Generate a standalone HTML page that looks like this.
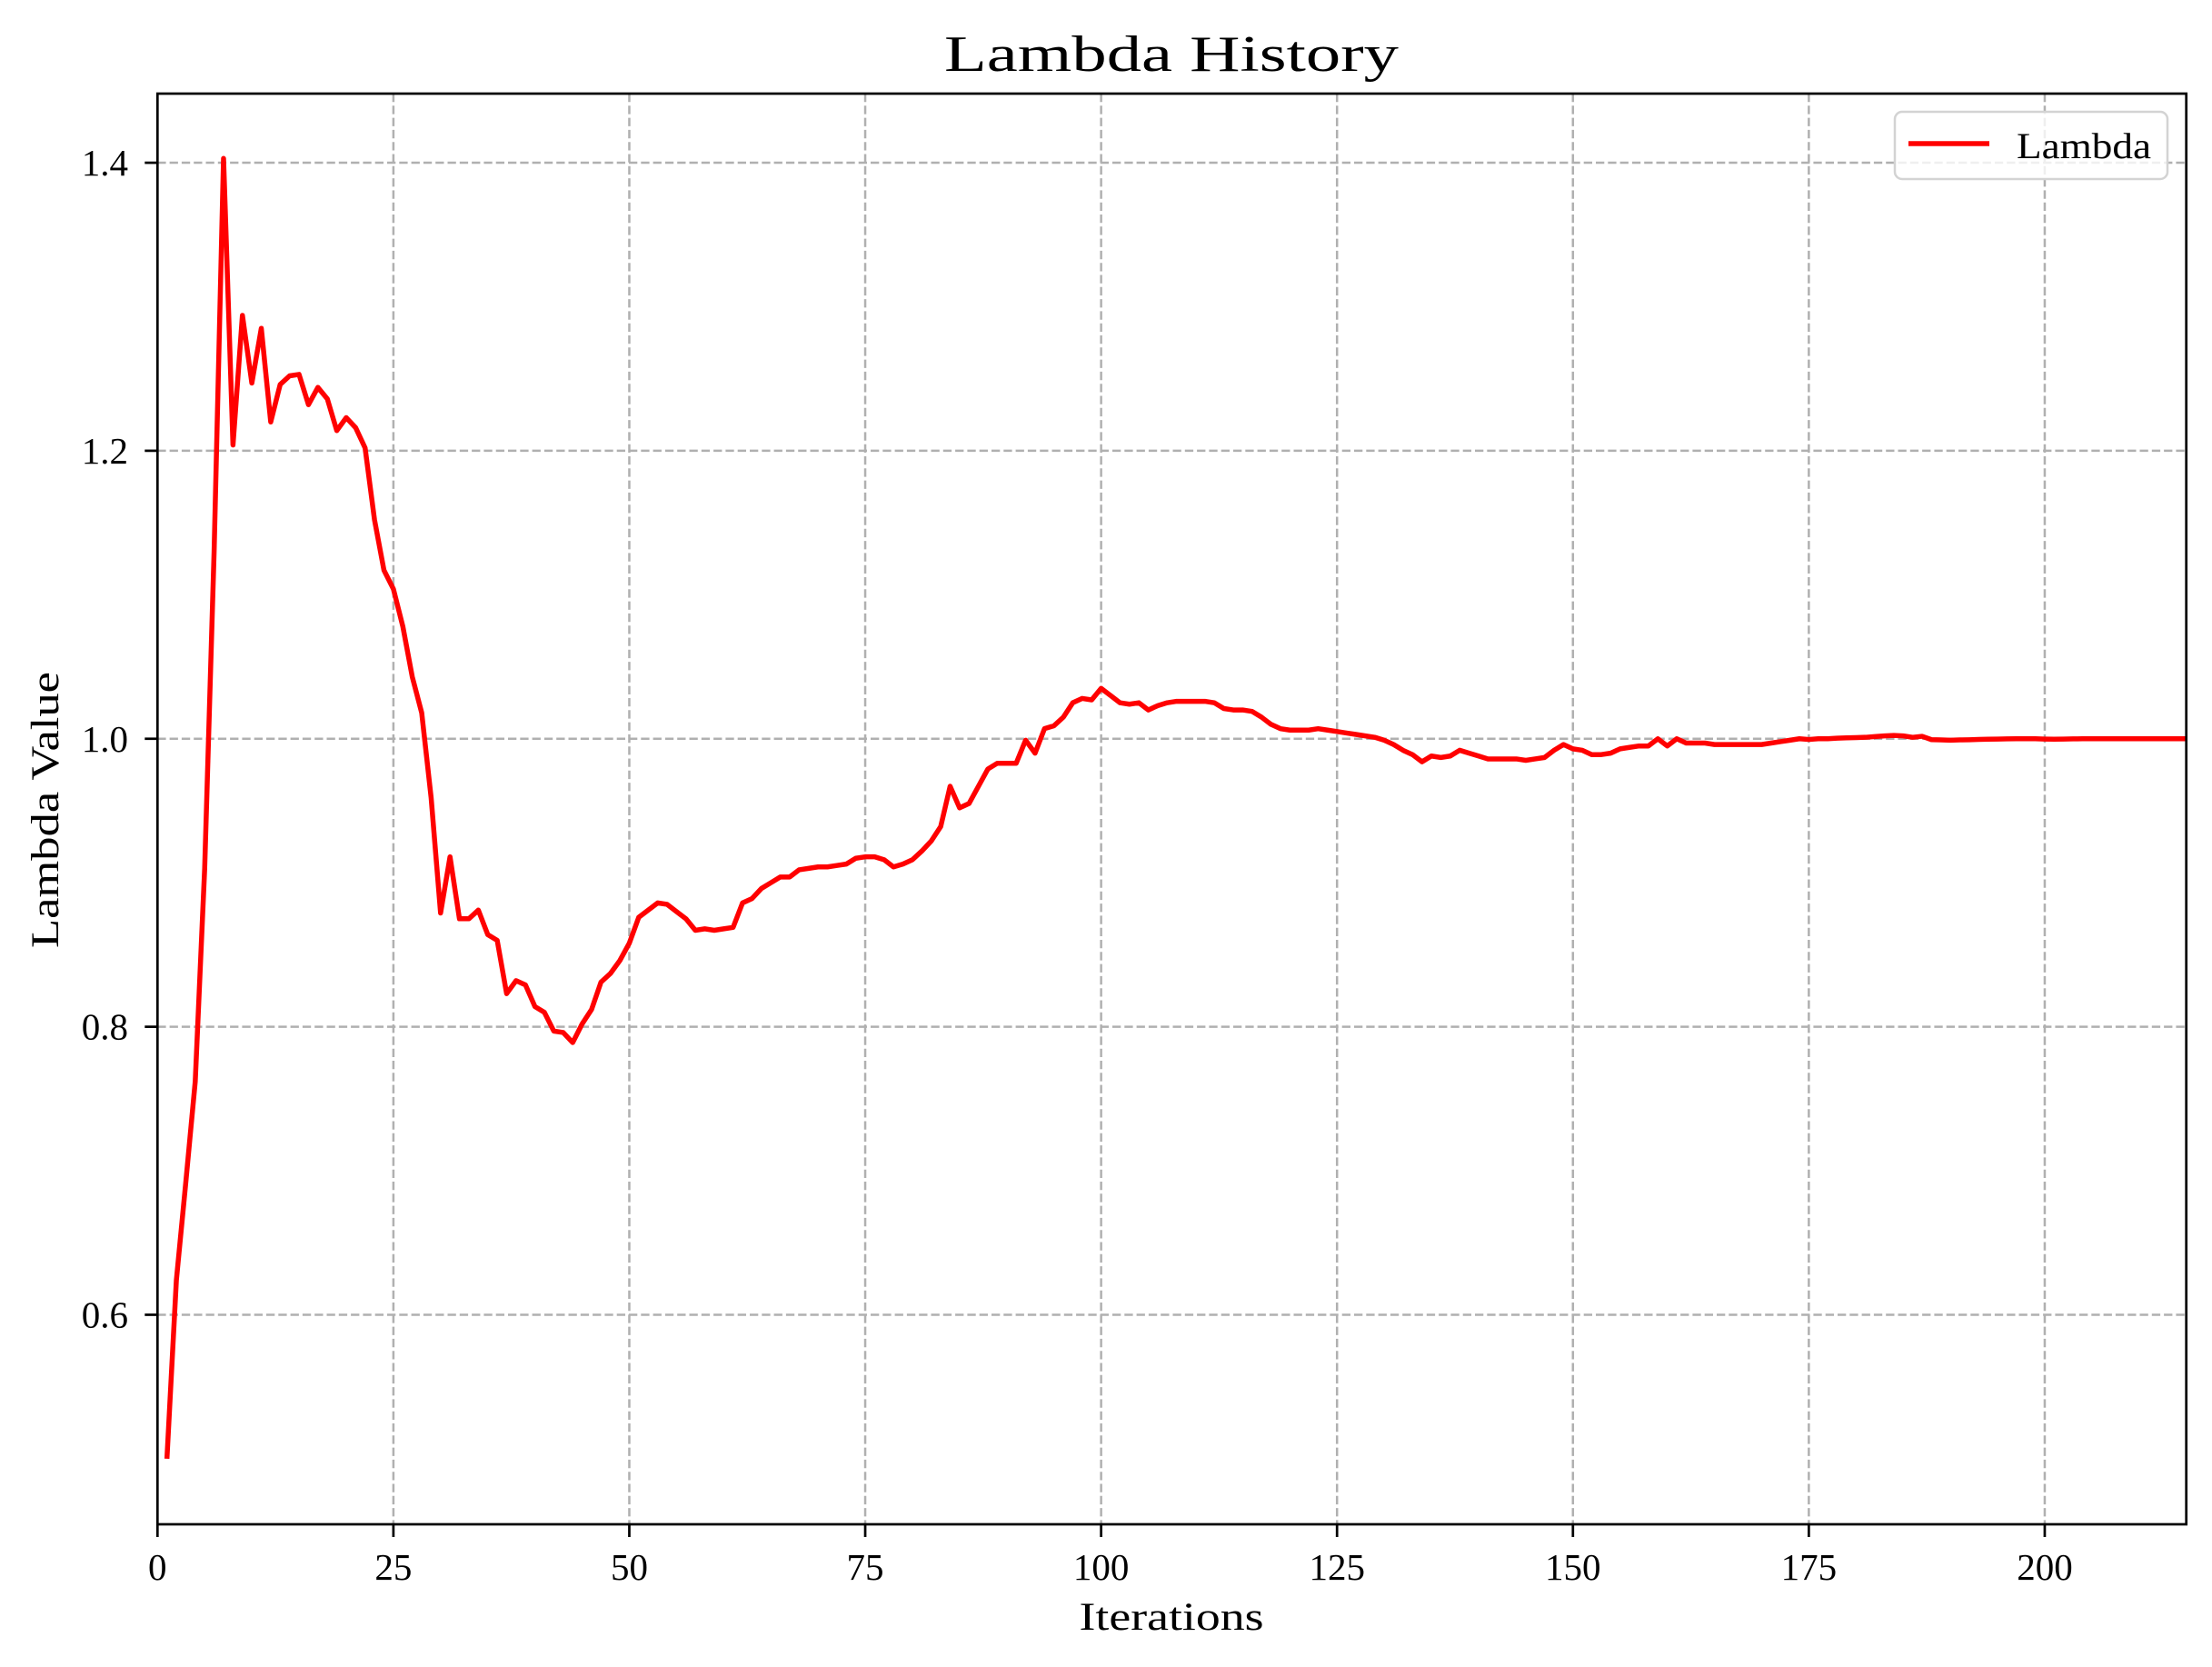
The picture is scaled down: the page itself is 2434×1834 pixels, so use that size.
<!DOCTYPE html>
<html><head><meta charset="utf-8"><style>
html,body{margin:0;padding:0;background:#fff;}
svg{display:block;}
text{font-family:"Liberation Serif","DejaVu Serif",serif;fill:#000;}
</style></head><body>
<svg id="chart" width="2434" height="1834" viewBox="0 0 2434 1834" xmlns="http://www.w3.org/2000/svg">
<rect x="0" y="0" width="2434" height="1834" fill="#fff"/>
<g id="grid"></g>
<g id="series"></g>
<rect x="173.3" y="103" width="2232.4" height="1574" fill="none" stroke="#000" stroke-width="2.7"/>
<g id="xticks"></g>
<g id="yticks"></g>
<text x="1289" y="78" font-size="56" text-anchor="middle" textLength="500" lengthAdjust="spacingAndGlyphs">Lambda History</text>
<text x="1289" y="1793" font-size="43" text-anchor="middle" textLength="203" lengthAdjust="spacingAndGlyphs">Iterations</text>
<text x="0" y="0" font-size="43" text-anchor="middle" textLength="304" lengthAdjust="spacingAndGlyphs" transform="translate(64,891) rotate(-90)">Lambda Value</text>
<g>
<rect x="2085" y="123" width="300" height="74" rx="8" fill="#fff" fill-opacity="0.8" stroke="#d3d3d3" stroke-width="2.5"/>
<line x1="2100" y1="158" x2="2189" y2="158" stroke="#ff0000" stroke-width="5.5"/>
<text x="2219" y="174" font-size="40" textLength="148" lengthAdjust="spacingAndGlyphs">Lambda</text>
</g>
</svg>
<script>
const lambdaValues = [
0.500,0.624,0.692,0.762,0.910,1.130,1.403,1.204,1.294,1.247,
1.285,1.220,1.246,1.252,1.253,1.232,1.244,1.236,1.214,1.223,
1.216,1.202,1.152,1.117,1.104,1.078,1.043,1.018,0.959,0.879,
0.918,0.875,0.875,0.881,0.864,0.860,0.823,0.832,0.829,0.814,
0.810,0.797,0.796,0.789,0.802,0.812,0.831,0.837,0.846,0.858,
0.876,0.881,0.886,0.885,0.880,0.875,0.867,0.868,0.867,0.868,
0.869,0.886,0.889,0.896,0.900,0.904,0.904,0.909,0.910,0.911,
0.911,0.912,0.913,0.917,0.918,0.918,0.916,0.911,0.913,0.916,
0.922,0.929,0.939,0.967,0.952,0.955,0.967,0.979,0.983,0.983,
0.983,0.999,0.990,1.007,1.009,1.015,1.025,1.028,1.027,1.035,
1.030,1.025,1.024,1.025,1.020,1.023,1.025,1.026,1.026,1.026,
1.026,1.025,1.021,1.020,1.020,1.019,1.015,1.010,1.007,1.006,
1.006,1.006,1.007,1.006,1.005,1.004,1.003,1.002,1.001,0.999,
0.996,0.992,0.989,0.984,0.988,0.987,0.988,0.992,0.990,0.988,
0.986,0.986,0.986,0.986,0.985,0.986,0.987,0.992,0.996,0.993,
0.992,0.989,0.989,0.990,0.993,0.994,0.995,0.995,1.000,0.995,
1.000,0.997,0.997,0.997,0.996,0.996,0.996,0.996,0.996,0.996,
0.997,0.998,0.999,1.000,0.9995,1.000,1.000,1.0004,1.0006,1.0008,
1.001,1.0015,1.002,1.0023,1.002,1.001,1.0017,0.9994,0.9992,0.999,
0.9992,0.9993,0.9995,0.9997,0.9998,0.9999,1.000,1.000,1.000,0.9998,
0.9997,0.9998,0.9999,1.000,1.000,1.000,1.000,1.000,1.000,1.000,
1.000,1.000,1.000,1.000,1.000
];
const xTickValues = [0,25,50,75,100,125,150,175,200];
const yTickValues = [0.6,0.8,1.0,1.2,1.4];
const yTickLabels = ["0.6","0.8","1.0","1.2","1.4"];
const xDomain = [0,215];
const yDomain = [0.4545,1.448];

const L=173.3,R=2405.7,T=103,B=1677;
function xs(v){return L+(v-xDomain[0])/(xDomain[1]-xDomain[0])*(R-L);}
function ys(v){return B-(v-yDomain[0])/(yDomain[1]-yDomain[0])*(B-T);}
const NS="http://www.w3.org/2000/svg";
const grid=document.getElementById('grid');
const xt=document.getElementById('xticks');
const yt=document.getElementById('yticks');
function mk(tag,attrs,parent){const e=document.createElementNS(NS,tag);for(const k in attrs)e.setAttribute(k,attrs[k]);parent.appendChild(e);return e;}
xTickValues.forEach(v=>{
  const x=xs(v);
  if(v>xDomain[0]){
    const g=mk('line',{x1:x,y1:T,x2:x,y2:B,stroke:'#b0b0b0','stroke-width':2.5,'stroke-dasharray':'9.3,4'},grid);
    
    
  }
  const t=mk('line',{x1:x,y1:B,x2:x,y2:B+14,stroke:'#000','stroke-width':2.7},xt);
  
  
  const l=mk('text',{x:x,y:1738,'font-size':41,'text-anchor':'middle'},xt);
  l.textContent=String(v);
  
  
});
yTickValues.forEach((v,i)=>{
  const y=ys(v);
  const g=mk('line',{x1:L,y1:y,x2:R,y2:y,stroke:'#b0b0b0','stroke-width':2.5,'stroke-dasharray':'9.3,4'},grid);
  
  
  const t=mk('line',{x1:L-14,y1:y,x2:L,y2:y,stroke:'#000','stroke-width':2.7},yt);
  
  
  const l=mk('text',{x:141,y:y+14,'font-size':41,'text-anchor':'end'},yt);
  l.textContent=yTickLabels[i];
  
  
});
let d='';
lambdaValues.forEach((v,i)=>{d+=(i?'L':'M')+xs(i+1).toFixed(2)+','+ys(v).toFixed(2);});
const defs=mk('defs',{},document.getElementById('chart'));
const cp=mk('clipPath',{id:'clip'},defs);
mk('rect',{x:L,y:T,width:R-L,height:B-T},cp);
const p=mk('path',{d:d,fill:'none',stroke:'#ff0000','stroke-width':5.5,'stroke-linejoin':'round','clip-path':'url(#clip)'},document.getElementById('series'));


</script>
</body></html>
